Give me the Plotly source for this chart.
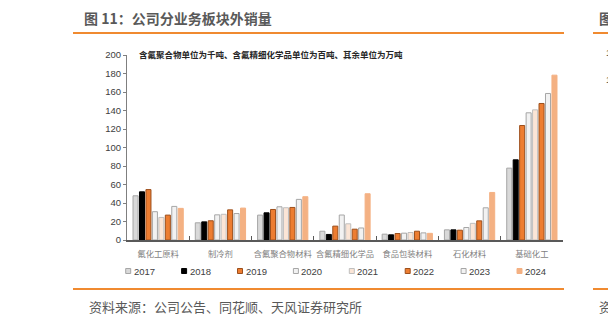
import plotly.graph_objects as go

# Business segments and yearly external sales volumes
categories = ["氟化工原料", "制冷剂", "含氟聚合物材料", "含氟精细化学品", "食品包装材料", "石化材料", "基础化工"]
years = ["2017", "2018", "2019", "2020", "2021", "2022", "2023", "2024"]

v2017 = [47.8, 18.6, 26.9, 9.5, 6.3, 11.0, 77.7]
v2018 = [52.1, 19.6, 29.4, 6.0, 5.6, 11.0, 86.7]
v2019 = [54.5, 20.8, 33.0, 15.0, 7.0, 10.6, 123.8]
v2020 = [30.6, 27.2, 35.9, 27.0, 7.4, 13.5, 137.5]
v2021 = [24.4, 27.8, 34.9, 17.5, 8.1, 18.0, 140.7]
v2022 = [26.9, 32.6, 35.2, 11.7, 9.5, 20.7, 147.6]
v2023 = [36.3, 28.6, 43.9, 13.0, 7.7, 34.8, 158.4]
v2024 = [34.2, 34.5, 46.8, 50.0, 7.2, 51.4, 178.2]
series = [v2017, v2018, v2019, v2020, v2021, v2022, v2023, v2024]

fills = ["#d9d9d9", "#000000", "#ed7d31", "#f2f2f2", "#fbe5d6", "#ed7d31", "#f2f2f2", "#f4b183"]
edges = ["#a6a6a6", "#000000", "#9c4f1c", "#a6a6a6", "#bfbfbf", "#9c4f1c", "#a6a6a6", "#f4b183"]

W, H = 608, 326
L, R, T, B = 127, 563, 55, 240
FONT = "Liberation Sans, Noto Sans CJK SC, sans-serif"
CJK = "Noto Sans CJK SC, sans-serif"
ORANGE = "#f08a30"


def px_x(px):
    return (px - L) / (R - L)


def px_y(py):
    return (B - py) / (B - T)


fig = go.Figure()
for name, vals, fc, ec in zip(years, series, fills, edges):
    fig.add_trace(go.Bar(
        x=categories, y=vals, name=name,
        marker=dict(color=fc, line=dict(color=ec, width=1)),
        showlegend=False,
    ))

shapes = []
annotations = []

# Legend drawn as small swatches with year labels
for i, (name, fc, ec) in enumerate(zip(years, fills, edges)):
    x0 = 125.7 + 55.9 * i
    shapes.append(dict(type="rect", xref="paper", yref="paper",
                       x0=px_x(x0), x1=px_x(x0 + 5), y0=px_y(268.5), y1=px_y(273.5),
                       fillcolor=fc, line=dict(color=ec, width=1)))
    annotations.append(dict(text=name, xref="paper", yref="paper",
                            x=px_x(x0 + 6), y=px_y(271), xanchor="left", yanchor="middle",
                            showarrow=False, font=dict(family=FONT, size=9.5, color="#404040")))

# Header and footer rules
for (x0, x1, y) in [(73, 564, 33), (593, 608, 33), (73, 564, 289), (593, 608, 289)]:
    shapes.append(dict(type="line", xref="paper", yref="paper",
                       x0=px_x(x0), x1=px_x(x1), y0=px_y(y), y1=px_y(y),
                       line=dict(color=ORANGE, width=2)))

annotations += [
    dict(text="图 11：公司分业务板块外销量", xref="paper", yref="paper",
         x=px_x(82), y=px_y(18), xanchor="left", yanchor="middle", showarrow=False,
         font=dict(family=CJK, size=14, color="#595959", weight="bold")),
    dict(text="图", xref="paper", yref="paper",
         x=px_x(597), y=px_y(18), xanchor="left", yanchor="middle", showarrow=False,
         font=dict(family=CJK, size=14, color="#595959", weight="bold")),
    dict(text="资料来源：公司公告、同花顺、天风证券研究所", xref="paper", yref="paper",
         x=px_x(87), y=px_y(306), xanchor="left", yanchor="middle", showarrow=False,
         font=dict(family=CJK, size=13, color="#595959")),
    dict(text="资", xref="paper", yref="paper",
         x=px_x(597), y=px_y(306), xanchor="left", yanchor="middle", showarrow=False,
         font=dict(family=CJK, size=13, color="#595959")),
    dict(text="含氟聚合物单位为千吨、含氟精细化学品单位为百吨、其余单位为万吨", xref="paper", yref="paper",
         x=px_x(137), y=px_y(54), xanchor="left", yanchor="middle", showarrow=False,
         font=dict(family=CJK, size=8.5, color="#262626", weight="bold")),
    dict(text="180", xref="paper", yref="paper",
         x=px_x(604), y=px_y(53), xanchor="left", yanchor="middle", showarrow=False,
         font=dict(family=FONT, size=9, color="#404040")),
    dict(text="160", xref="paper", yref="paper",
         x=px_x(604), y=px_y(80), xanchor="left", yanchor="middle", showarrow=False,
         font=dict(family=FONT, size=9, color="#404040")),
]

fig.update_layout(
    width=W, height=H,
    margin=dict(l=L, r=W - R, t=T, b=H - B),
    paper_bgcolor="white", plot_bgcolor="white",
    barmode="group", bargap=0.17, bargroupgap=0.22,
    shapes=shapes, annotations=annotations,
    showlegend=False,
)
fig.update_yaxes(
    range=[0, 200], tickvals=list(range(0, 201, 20)),
    showgrid=False, zeroline=False,
    showline=True, linecolor="#7f7f7f", linewidth=1,
    ticks="outside", ticklen=3, tickcolor="#7f7f7f",
    tickfont=dict(family=FONT, size=9.5, color="#404040"),
)
fig.update_xaxes(
    showgrid=False, showline=True, linecolor="#595959", linewidth=1.5,
    ticks="inside", ticklen=4, tickcolor="#595959", tickson="boundaries",
    tickangle=0, ticklabelstandoff=5,
    tickfont=dict(family=CJK, size=8.3, color="#7f7f7f"),
)

fig.write_html("out.html")
